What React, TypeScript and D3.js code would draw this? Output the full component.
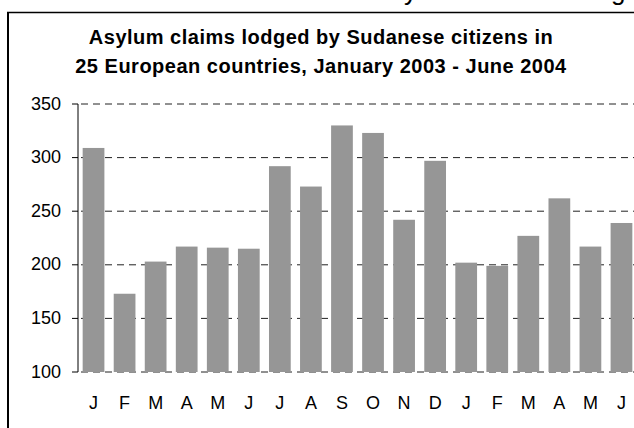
import React from "react";
import * as d3 from "d3";

const months = ["J", "F", "M", "A", "M", "J", "J", "A", "S", "O", "N", "D", "J", "F", "M", "A", "M", "J"];
const claims = [309, 173, 203, 217, 216, 215, 292, 273, 330, 323, 242, 297, 202, 199, 227, 262, 217, 239];
const yTicks = [100, 150, 200, 250, 300, 350];
const titleLines = [
  "Asylum claims lodged by Sudanese citizens in",
  "25 European countries, January 2003 - June 2004",
];

const W = 634;
const H = 428;
const FONT = "'Liberation Sans', Arial, Helvetica, sans-serif";

export default function App() {
  const idx = months.map((_, i) => String(i));
  const x = d3.scaleBand<string>().domain(idx).range([78, 637]).paddingInner(0.3).paddingOuter(0.15);
  const y = d3.scaleLinear().domain([100, 350]).range([372, 104]);

  return (
    <svg
      width={W}
      height={H}
      style={{ position: "absolute", left: 0, top: 0, background: "#fff" }}
      fontFamily={FONT}
    >
      <rect x={0} y={0} width={W} height={H} fill="#fff" />
      {/* clipped text above the frame */}
      <text x={404} y={0} fontSize={26} fill="#000">y</text>
      <text x={611} y={0} fontSize={26} fill="#000">g</text>

      {/* frame */}
      <line x1={7} x2={W} y1={12.5} y2={12.5} stroke="#000" strokeWidth={1.5} />
      <line x1={8} x2={8} y1={12} y2={H} stroke="#000" strokeWidth={2} />

      {/* title */}
      {titleLines.map((t, i) => (
        <text
          key={i}
          x={321}
          y={44 + i * 29}
          textAnchor="middle"
          fontSize={20}
          fontWeight="bold"
          letterSpacing={0.5}
          fill="#000"
        >
          {t}
        </text>
      ))}

      {/* gridlines */}
      {yTicks.map((t) => (
        <line
          key={"g" + t}
          x1={78}
          x2={637}
          y1={y(t)}
          y2={y(t)}
          stroke="#222"
          strokeWidth={1}
          strokeDasharray="7,5"
          strokeDashoffset={-3}
        />
      ))}

      {/* bars */}
      {claims.map((v, i) => (
        <rect
          key={"b" + i}
          x={x(String(i))}
          y={y(v)}
          width={x.bandwidth()}
          height={y(100) - y(v)}
          fill="#969696"
        />
      ))}

      {/* y axis */}
      <line x1={78} x2={78} y1={y(350)} y2={y(100)} stroke="#000" strokeWidth={1} />
      {yTicks.map((t) => (
        <g key={"t" + t}>
          <line x1={72} x2={78} y1={y(t)} y2={y(t)} stroke="#000" strokeWidth={1} />
          <text x={61} y={y(t) + 5.5} textAnchor="end" fontSize={18} fill="#000">
            {t}
          </text>
        </g>
      ))}

      {/* x labels */}
      {months.map((m, i) => (
        <text
          key={"x" + i}
          x={(x(String(i)) as number) + x.bandwidth() / 2}
          y={409}
          textAnchor="middle"
          fontSize={18}
          fill="#000"
        >
          {m}
        </text>
      ))}
    </svg>
  );
}
